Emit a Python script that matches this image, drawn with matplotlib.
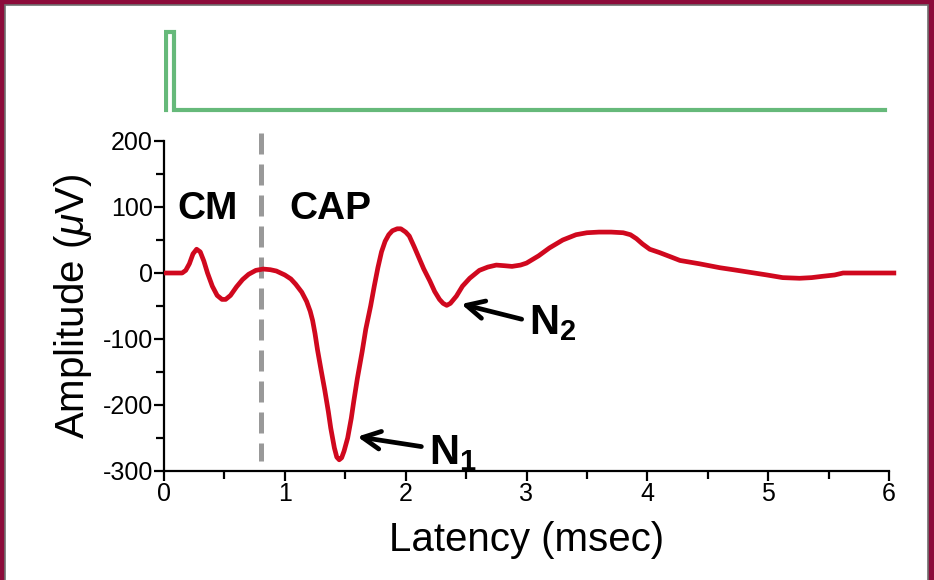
import numpy as np
import matplotlib
matplotlib.use("Agg")
import matplotlib.pyplot as plt
from matplotlib.patches import Rectangle

plt.rcParams['font.family'] = ['Liberation Sans', 'DejaVu Sans']
plt.rcParams['mathtext.fontset'] = 'custom'
plt.rcParams['mathtext.rm'] = 'Liberation Sans'
plt.rcParams['mathtext.it'] = 'Liberation Sans:italic'
plt.rcParams['mathtext.bf'] = 'Liberation Sans:bold'
plt.rcParams['axes.unicode_minus'] = False

# respuesta (latencia en ms, amplitud en uV)
lat = [0.02, 0.15, 0.18, 0.21, 0.24, 0.27, 0.30, 0.33, 0.36, 0.40, 0.44, 0.48,
       0.51, 0.55, 0.60, 0.65, 0.70, 0.76, 0.82, 0.88, 0.93, 1.00, 1.05, 1.09,
       1.14, 1.18, 1.21, 1.23, 1.25, 1.27, 1.30, 1.33, 1.36, 1.38, 1.41, 1.43,
       1.45, 1.47, 1.49, 1.52, 1.55, 1.57, 1.60, 1.64, 1.67, 1.71, 1.74, 1.77,
       1.80, 1.83, 1.86, 1.89, 1.93, 1.96, 2.00, 2.03, 2.07, 2.11, 2.15, 2.20,
       2.24, 2.28, 2.31, 2.34, 2.37, 2.42, 2.47, 2.53, 2.61, 2.68, 2.75, 2.82,
       2.88, 2.95, 3.00, 3.10, 3.19, 3.30, 3.41, 3.50, 3.60, 3.70, 3.80, 3.86,
       3.91, 3.96, 4.02, 4.10, 4.20, 4.27, 4.43, 4.60, 4.71, 4.85, 4.99, 5.12,
       5.26, 5.36, 5.45, 5.55, 5.62, 5.75, 5.95, 6.04]
amp = [0, 0, 4, 14, 29, 36, 32, 18, 0, -20, -34, -40,
       -40, -34, -21, -10, -2, 4, 6, 5, 3, -3, -9, -17,
       -29, -43, -58, -72, -92, -116, -147, -177, -210, -235, -265, -279,
       -283, -280, -270, -250, -220, -195, -160, -119, -85, -50, -20, 8,
       32, 48, 58, 64, 67, 67, 62, 56, 40, 23, 6, -12,
       -28, -40, -46, -49, -46, -35, -20, -8, 4, 9, 12, 11,
       10, 12, 15, 26, 38, 50, 58, 61, 62, 62, 61, 58,
       52, 44, 36, 31, 24, 19, 14, 8, 5, 1, -3, -7,
       -8, -7, -5, -3, 0, 0, 0, 0]

# estimulo
stim_t = [0.02, 0.02, 0.08, 0.08, 5.97]
stim_v = [0, 1, 1, 0, 0]

W, H = 934, 580
fig = plt.figure(figsize=(W / 100, H / 100), dpi=100)
fig.patch.set_facecolor('#8C0B3A')
fig.patches.append(Rectangle((5 / W, -0.01), (928 - 5) / W, (H - 5) / H + 0.01,
                             transform=fig.transFigure, fc='white', ec='#707070',
                             lw=1.2, zorder=-5))

x0, x1 = 164, 889
ax = fig.add_axes([x0 / W, (H - 471) / H, (x1 - x0) / W, (471 - 141) / H])
ax.set_facecolor('none')
ax.plot(lat, amp, color='#D0081E', lw=3.4, clip_on=False, zorder=3)
ax.plot([0.80, 0.80], [212, -285], color='#999999', lw=3.6,
        dashes=(4.2, 2.0), clip_on=False, zorder=2)

ax.set_xlim(0, 6)
ax.set_ylim(-300, 200)
ax.set_xticks(np.arange(0, 7, 1))
ax.set_xticks(np.arange(0.5, 6, 1), minor=True)
ax.set_yticks(np.arange(-300, 201, 100))
ax.set_yticks(np.arange(-250, 200, 100), minor=True)
for s in ['top', 'right']:
    ax.spines[s].set_visible(False)
for s in ['left', 'bottom']:
    ax.spines[s].set_linewidth(1.6)
ax.tick_params(which='major', direction='out', length=7, width=1.6, labelsize=18, pad=1)
ax.tick_params(which='minor', direction='out', length=6, width=1.6)

ax.set_xlabel("Latency (msec)", fontsize=29, labelpad=11)
ax.set_ylabel(r"Amplitude ($\mu$V)", fontsize=29, labelpad=6)

ax.text(0.11, 82, "CM", fontsize=28, fontweight='bold')
ax.text(1.04, 82, "CAP", fontsize=28, fontweight='bold')

ax.annotate("", xy=(1.60, -248), xytext=(2.13, -263),
            arrowprops=dict(arrowstyle='->', lw=3.4, color='black',
                            mutation_scale=32, shrinkA=0, shrinkB=0))
ax.text(2.19, -290, r"$\mathbf{N_1}$", fontsize=30)
ax.annotate("", xy=(2.46, -47), xytext=(2.96, -70),
            arrowprops=dict(arrowstyle='->', lw=3.4, color='black',
                            mutation_scale=32, shrinkA=0, shrinkB=0))
ax.text(3.02, -93, r"$\mathbf{N_2}$", fontsize=30)

# panel del estimulo
ax2 = fig.add_axes([x0 / W, (H - 117.8) / H, (x1 - x0) / W, 93.6 / H])
ax2.set_facecolor('none')
ax2.plot(stim_t, stim_v, color='#66B97A', lw=3.0, solid_joinstyle='miter')
ax2.set_xlim(0, 6)
ax2.set_ylim(-0.1, 1.1)
ax2.axis('off')

fig.savefig("out.png", dpi=100, facecolor=fig.get_facecolor())
